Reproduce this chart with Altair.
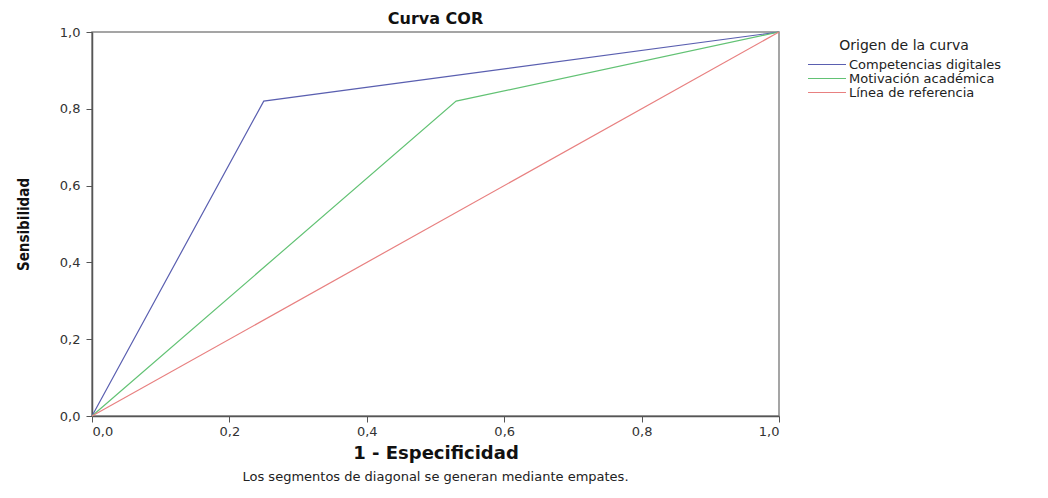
import altair as alt
import pandas as pd

series_names = ["Competencias digitales", "Motivación académica", "Línea de referencia"]
comp_x = [0.0, 0.25, 1.0]
comp_y = [0.0, 0.82, 1.0]
motiv_x = [0.0, 0.53, 1.0]
motiv_y = [0.0, 0.82, 1.0]
ref_x = [0.0, 1.0]
ref_y = [0.0, 1.0]
colors = ["#5a5fb0", "#62c274", "#e88080"]
footnote = "Los segmentos de diagonal se generan mediante empates."

rows = []
for name, xs, ys in zip(series_names, [comp_x, motiv_x, ref_x], [comp_y, motiv_y, ref_y]):
    for i, (a, b) in enumerate(zip(xs, ys)):
        rows.append({"serie": name, "orden": i, "x": a, "y": b})
df = pd.DataFrame(rows)

fmt = "replace(format(datum.value, '.1f'), '.', ',')"
FONT = "DejaVu Sans"

lines = alt.Chart(df).mark_line(strokeWidth=1.2).encode(
    x=alt.X("x:Q", scale=alt.Scale(domain=[0, 1], nice=False),
            axis=alt.Axis(title="1 - Especificidad", values=[0, 0.2, 0.4, 0.6, 0.8, 1.0],
                          labelExpr=fmt, titleFontSize=18, titleFontWeight="bold",
                          titleFont=FONT, titlePadding=6, labelPadding=3)),
    y=alt.Y("y:Q", scale=alt.Scale(domain=[0, 1], nice=False),
            axis=alt.Axis(title="Sensibilidad", values=[0, 0.2, 0.4, 0.6, 0.8, 1.0],
                          labelExpr=fmt, titleFontSize=15, titleFontWeight="bold",
                          titleFont="DejaVu Sans Condensed, DejaVu Sans", titlePadding=28,
                          labelPadding=6)),
    color=alt.Color("serie:N", scale=alt.Scale(domain=series_names, range=colors),
                    legend=alt.Legend(title="Origen de la curva", orient="none",
                                      legendX=715, legendY=7, symbolType="stroke",
                                      symbolSize=1444, symbolStrokeWidth=1.2,
                                      labelFontSize=13, titleFontSize=14,
                                      titleFontWeight="normal", titleFont=FONT,
                                      labelFont=FONT, labelColor="#222", titleColor="#222",
                                      clipHeight=13, rowPadding=0, labelOffset=2,
                                      titlePadding=5, titleAnchor="middle")),
    order="orden:O",
)

note = alt.Chart(pd.DataFrame({"t": [footnote]})).mark_text(
    fontSize=13, font=FONT, color="#222", align="center", baseline="middle"
).encode(text="t:N", x=alt.value(343.5), y=alt.value(445))

chart = alt.layer(lines, note).properties(
    width=687, height=384,
    title=alt.TitleParams("Curva COR", fontSize=16, fontWeight="bold", font=FONT,
                          anchor="middle", offset=-1, color="#111"),
    autosize=alt.AutoSizeParams(type="none"),
    padding={"left": 84, "top": 24, "right": 255, "bottom": 70},
).configure_view(stroke="#888", strokeWidth=1.5).configure_axis(
    grid=False, domainColor="#555", domainWidth=1.5, tickColor="#555",
    tickSize=6, labelFont=FONT, labelFontSize=13, labelColor="#333",
    titleColor="#111"
)

chart.save("out.html", embed_options={"renderer": "svg", "actions": False})
